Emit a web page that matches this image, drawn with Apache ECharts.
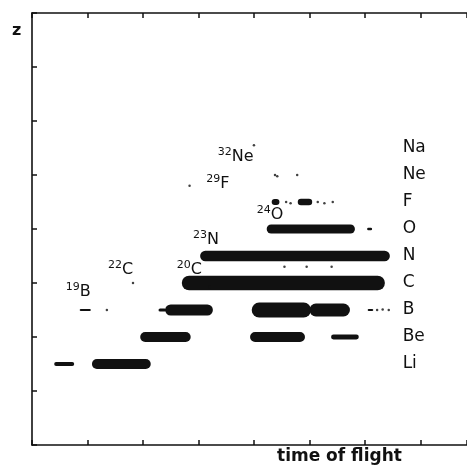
<!DOCTYPE html>
<html>
<head>
<meta charset="utf-8">
<script src="https://cdn.jsdelivr.net/npm/echarts@6/dist/echarts.min.js"></script>
<style>
  html, body { margin: 0; padding: 0; background: #fff; }
  #chart { width: 467px; height: 468px; }
</style>
</head>
<body>
<div id="chart"></div>
<script>
// element rows (Z) and their names on the right
const elements = ['Li', 'Be', 'B', 'C', 'N', 'O', 'F', 'Ne', 'Na'];
const elementZ = [3, 4, 5, 6, 7, 8, 9, 10, 11];

// dense bands: [tof start, tof end, Z, spread in Z]
const bands = [
  [0.40, 0.76, 3, 0.14],
  [1.08, 2.14, 3, 0.37],
  [1.95, 2.86, 4, 0.37],
  [3.93, 4.92, 4, 0.37],
  [5.39, 5.89, 4, 0.18],
  [0.86, 1.06, 5, 0.08],
  [2.28, 2.42, 5, 0.12],
  [2.40, 3.26, 5, 0.41],
  [3.96, 5.03, 5, 0.55],
  [5.00, 5.73, 5, 0.48],
  [6.05, 6.15, 5, 0.08],
  [2.70, 6.36, 6, 0.54],
  [3.03, 6.45, 7, 0.39],
  [4.23, 5.82, 8, 0.33],
  [6.04, 6.13, 8, 0.09],
  [4.32, 4.46, 9, 0.22],
  [4.79, 5.05, 9, 0.24]
];

// isolated counts: [tof, Z]
const dots = [
  [1.35, 5.0], [1.82, 6.0], [6.22, 5.0], [6.32, 5.02], [6.43, 5.0],
  [4.58, 9.0], [4.66, 8.95], [5.15, 9.0], [5.27, 8.95], [5.42, 9.0],
  [4.38, 10.0], [4.42, 9.95], [4.78, 10.0], [4.00, 11.1], [2.84, 9.6],
  [3.20, 5.85], [4.55, 6.6], [4.95, 6.6], [5.40, 6.6]
];

// isotope annotations: [mass, element, tof, Z]
const isotopes = [
  ['19', 'B', 0.61, 5.37],
  ['22', 'C', 1.37, 6.19],
  ['20', 'C', 2.61, 6.19],
  ['23', 'N', 2.90, 7.30],
  ['24', 'O', 4.05, 8.22],
  ['29', 'F', 3.14, 9.37],
  ['32', 'Ne', 3.35, 10.37]
];

const ink = '#111';
const chart = echarts.init(document.getElementById('chart'));

const axisCommon = {
  type: 'value',
  min: 0,
  interval: 1,
  axisLine: { show: true, lineStyle: { color: ink, width: 1.6 } },
  axisTick: { show: true, inside: true, length: 5, lineStyle: { color: ink, width: 1.5 } },
  axisLabel: { show: false },
  splitLine: { show: false }
};

chart.setOption({
  animation: false,
  grid: { left: 32, right: 0, top: 13, bottom: 23 },
  xAxis: [
    Object.assign({}, axisCommon, { position: 'bottom', max: 7.84 }),
    Object.assign({}, axisCommon, { position: 'top', max: 7.84 })
  ],
  yAxis: Object.assign({}, axisCommon, { max: 16, interval: 2 }),
  graphic: [
    { type: 'text', left: 12, top: 23, style: { text: 'z', font: 'bold 16px "DejaVu Sans"', fill: ink } },
    { type: 'text', left: 277, top: 448, style: { text: 'time of flight', font: 'bold 17px "DejaVu Sans"', fill: ink } }
  ],
  series: [
    {
      type: 'custom',
      data: bands,
      renderItem: function (params, api) {
        const p0 = api.coord([api.value(0), api.value(2) + api.value(3) / 2]);
        const p1 = api.coord([api.value(1), api.value(2) - api.value(3) / 2]);
        const h = Math.max(p1[1] - p0[1], 2);
        return {
          type: 'rect',
          shape: { x: p0[0], y: p0[1], width: p1[0] - p0[0], height: h, r: h / 2 },
          style: { fill: ink }
        };
      }
    },
    {
      type: 'scatter',
      data: dots,
      symbolSize: 2.5,
      itemStyle: { color: ink }
    },
    {
      type: 'custom',
      data: isotopes.map(function (d) { return [d[2], d[3]]; }),
      renderItem: function (params, api) {
        const d = isotopes[params.dataIndex];
        const p = api.coord([api.value(0), api.value(1)]);
        return {
          type: 'text',
          style: {
            x: p[0], y: p[1],
            text: '{s|' + d[0] + '}{e|' + d[1] + '}',
            align: 'left', verticalAlign: 'bottom',
            rich: {
              s: { fontSize: 11, fontFamily: 'DejaVu Sans', fill: ink, verticalAlign: 'top', lineHeight: 18 },
              e: { fontSize: 16, fontFamily: 'DejaVu Sans', fill: ink, verticalAlign: 'bottom', lineHeight: 18 }
            }
          }
        };
      }
    },
    {
      type: 'custom',
      data: elementZ.map(function (z) { return [6.68, z]; }),
      renderItem: function (params, api) {
        const p = api.coord([api.value(0), api.value(1)]);
        return {
          type: 'text',
          style: {
            x: p[0], y: p[1],
            text: elements[params.dataIndex],
            font: '17px "DejaVu Sans"', fill: ink,
            align: 'left', verticalAlign: 'middle'
          }
        };
      }
    }
  ]
});
</script>
</body>
</html>
